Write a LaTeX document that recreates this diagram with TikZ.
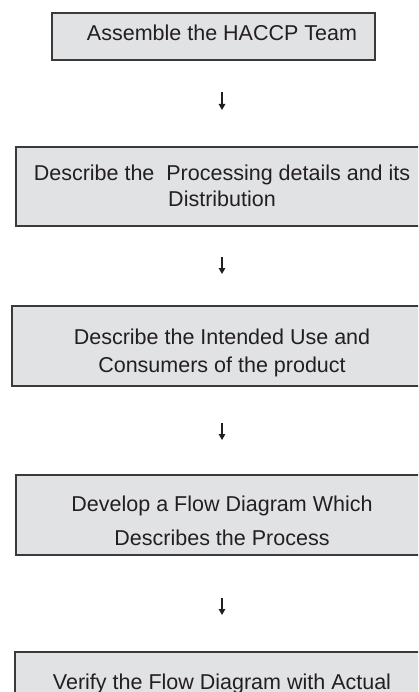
\documentclass[tikz,border=0pt]{standalone}
\usepackage{fontspec}
\setmainfont{Liberation Sans}
\usetikzlibrary{arrows.meta}
\definecolor{boxfill}{HTML}{E1E2E4}
\definecolor{boxline}{HTML}{3A3A3A}
\definecolor{txt}{HTML}{231F20}
\begin{document}
\begin{tikzpicture}[x=1pt,y=-1pt,
  box/.style={draw=boxline,fill=boxfill,line width=1.3pt,inner sep=0pt,rectangle},
  lbl/.style={font=\fontsize{21.5}{26}\selectfont,text=txt,anchor=base,inner sep=0pt},
  arr/.style={draw=txt,line width=1.4pt,-{Triangle[width=6.5pt,length=6pt]}}]
\useasboundingbox (0,0) rectangle (418,692);
\clip (0,0) rectangle (418,692);
% boxes
\node[box,minimum width=323pt,minimum height=47pt] (b1) at (213.5,36.5) {};
\node[box,minimum width=412pt,minimum height=79pt] (b2) at (222,186.5) {};
\node[box,minimum width=416pt,minimum height=80pt] (b3) at (220,346) {};
\node[box,minimum width=412pt,minimum height=80pt] (b4) at (222,515) {};
\node[box,minimum width=413pt,minimum height=80pt] (b5) at (221.5,692) {};
% texts
\node[lbl] (t1) at (222,41) {Assemble the HACCP Team};
\node[lbl] (t2a) at (222,181) {Describe the\ \ Processing details and its};
\node[lbl] (t2b) at (222,207) {Distribution};
\node[lbl] (t3a) at (222,344) {Describe the Intended Use and};
\node[lbl] (t3b) at (222,372) {Consumers of the product};
\node[lbl] (t4a) at (222,511) {Develop a Flow Diagram Which};
\node[lbl] (t4b) at (222,545) {Describes the Process};
\node[lbl] (t5a) at (222,689) {Verify the Flow Diagram with Actual};
% arrows
\coordinate (a1s) at (222,92);  \coordinate (a1e) at (222,110);
\coordinate (a2s) at (222,257); \coordinate (a2e) at (222,274);
\coordinate (a3s) at (222,423); \coordinate (a3e) at (222,440);
\coordinate (a4s) at (222,598); \coordinate (a4e) at (222,615);
\draw[arr] (a1s) -- (a1e);
\draw[arr] (a2s) -- (a2e);
\draw[arr] (a3s) -- (a3e);
\draw[arr] (a4s) -- (a4e);
\end{tikzpicture}
\end{document}
